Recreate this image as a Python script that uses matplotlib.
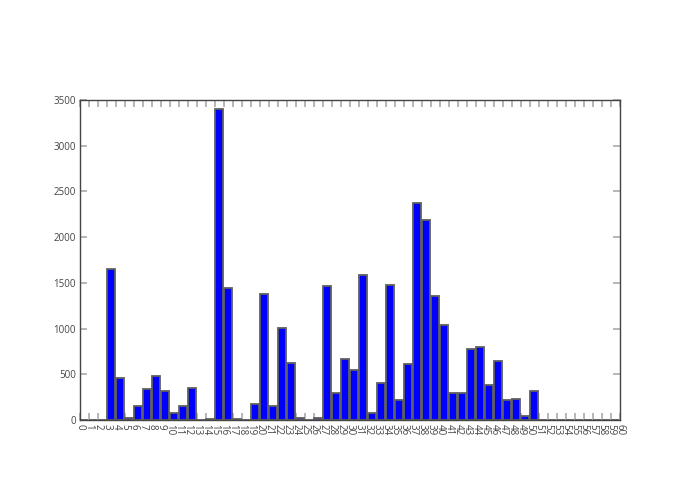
import matplotlib
matplotlib.use("Agg")
import matplotlib.pyplot as plt
import numpy as np

plt.rcParams['font.family'] = ['Open Sans', 'DejaVu Sans']

bins = list(range(0, 60))
counts = [0, 0, 3, 1650, 460, 20, 150, 340, 480, 317,
          78, 150, 345, 0, 6, 3400, 1440, 15, 0, 172,
          1380, 150, 1010, 625, 25, 0, 20, 1463, 297, 672,
          545, 1588, 80, 402, 1476, 223, 610, 2372, 2188, 1355,
          1040, 290, 290, 780, 800, 378, 645, 224, 234, 40,
          317, 0, 0, 0, 0, 0, 0, 0, 0, 0]
xticks = list(range(0, 61))
yticks = [0, 500, 1000, 1500, 2000, 2500, 3000, 3500]

fig = plt.figure(figsize=(7, 5), dpi=100)
ax = fig.add_axes([80/700, 80/500, 540/700, 320/500])
ax.bar(bins, counts, width=0.86, align='edge', color='#0000ff',
       edgecolor='#606060', linewidth=1.3, zorder=2)
ax.set_xlim(0, 60)
ax.set_ylim(0, 3500)
ax.set_xticks(xticks)
ax.set_xticklabels([str(t) for t in xticks], rotation=-90, va='top', ha='center')
ax.set_yticks(yticks)
ax.set_yticklabels([str(t) for t in yticks])
ax.tick_params(axis='both', direction='in', length=5, width=1.2, color='#aaaaaa',
               labelcolor='#444444', labelsize=7, top=True, right=True, pad=3)
for s in ax.spines.values():
    s.set_color('#444444')
    s.set_linewidth(1.0)
fig.savefig('out.png', dpi=100)
